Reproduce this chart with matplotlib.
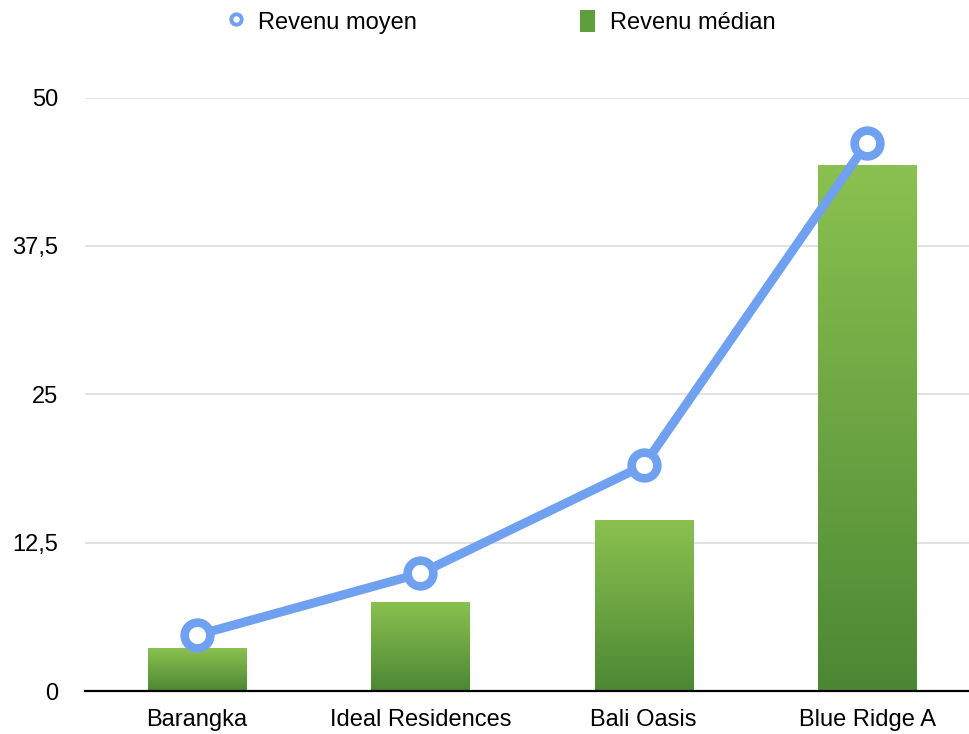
import numpy as np
import matplotlib
matplotlib.use("Agg")
import matplotlib.pyplot as plt
from matplotlib.colors import LinearSegmentedColormap
from matplotlib.patches import Rectangle
from matplotlib.lines import Line2D

plt.rcParams['font.family'] = ['Liberation Sans', 'DejaVu Sans']

categories = ["Barangka", "Ideal Residences", "Bali Oasis", "Blue Ridge A"]
revenu_median = [3.6, 7.5, 14.4, 44.3]
revenu_moyen = [4.7, 9.9, 19.0, 46.2]
yticks = [0, 12.5, 25, 37.5, 50]
ytick_labels = ["0", "12,5", "25", "37,5", "50"]

W, H = 969, 734
fig = plt.figure(figsize=(W / 100, H / 100), dpi=100)
left_px, right_px = 85, 969
bottom_px, top_px = 734 - 691, 734 - 97.5
ax = fig.add_axes([left_px / W, bottom_px / H, (right_px - left_px) / W, (top_px - bottom_px) / H])

x = np.arange(len(categories))
ax.set_xlim(-0.5, -0.5 + (right_px - left_px) / 223.5)
ax.set_ylim(0, 50)

for s in ax.spines.values():
    s.set_visible(False)
ax.axhline(0, color='black', lw=1.6, zorder=5, clip_on=False)
for t in yticks[1:]:
    ax.axhline(t, color='#dddddd', lw=1.2, zorder=0)

cmap = LinearSegmentedColormap.from_list('g', ['#4c8834', '#8bc150'])
grad = np.linspace(0, 1, 256).reshape(-1, 1)
bw = 0.44
bars = ax.bar(x, revenu_median, width=bw, color='none', edgecolor='none', zorder=2)
for b in bars:
    bx, by = b.get_x(), b.get_y()
    bh = b.get_height()
    im = ax.imshow(grad, cmap=cmap, aspect='auto', origin='lower',
                   extent=[bx, bx + bw, by, by + bh], zorder=2)
    im.set_clip_path(b)

ax.plot(x, revenu_moyen, color='#6fa1f0', lw=6.5, marker='o', markersize=18.5,
        markerfacecolor='white', markeredgecolor='#6fa1f0', markeredgewidth=6.2,
        zorder=4, clip_on=False, solid_capstyle='round')

ax.set_xticks(x)
ax.set_xticklabels(categories, fontsize=17)
ax.set_yticks(yticks)
ax.set_yticklabels(ytick_labels, fontsize=17)
ax.tick_params(axis='both', length=0)
ax.tick_params(axis='y', pad=19.5)
ax.tick_params(axis='x', pad=13)

h1 = Line2D([], [], color='#6fa1f0', lw=0, marker='o', markersize=7.5,
            markerfacecolor='white', markeredgecolor='#6fa1f0', markeredgewidth=2.8)
h2 = Rectangle((0, 0), 1, 1, facecolor='#5f9e3c', edgecolor='none')
leg = fig.legend([h1, h2], ["Revenu moyen", "Revenu médian"], loc='center',
                 bbox_to_anchor=(502 / W, 1 - 22 / H), ncol=2, frameon=False,
                 fontsize=17, columnspacing=6.9, handlelength=0.65, handletextpad=0.6,
                 handleheight=1.1)

fig.savefig("out.png", dpi=100)
